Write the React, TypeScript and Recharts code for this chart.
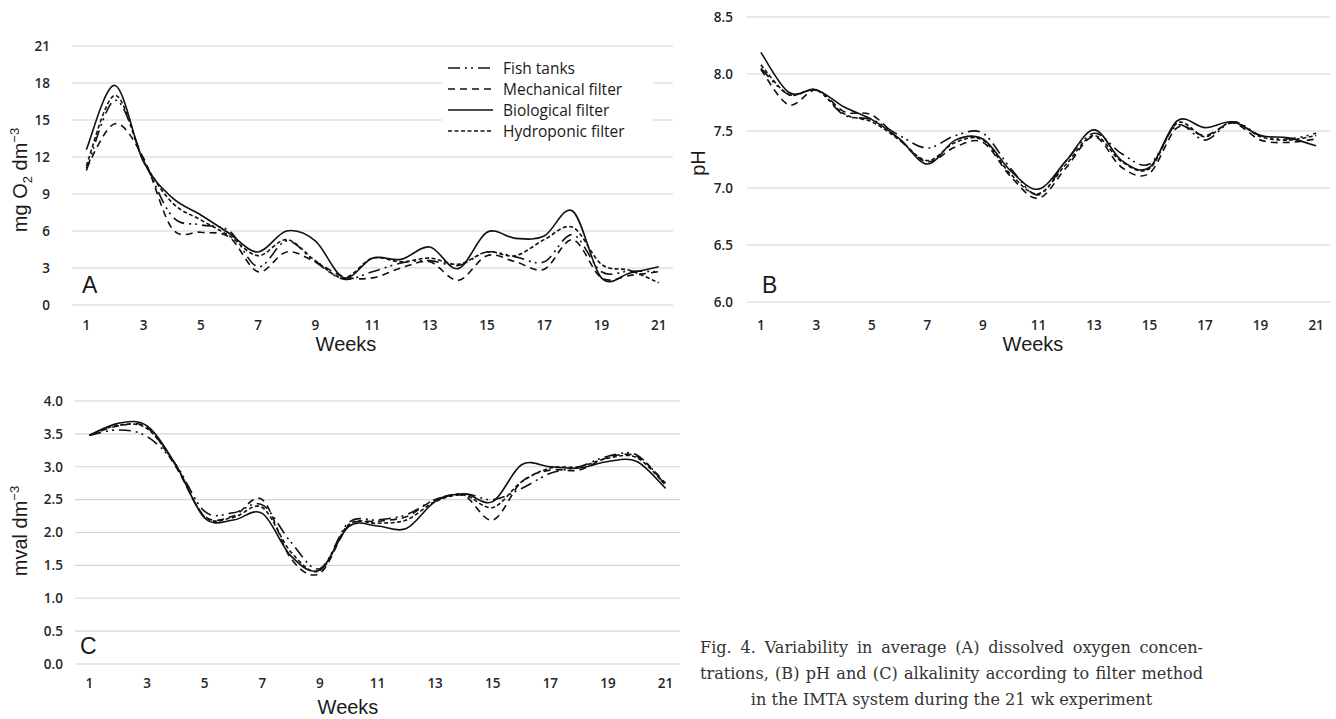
import React from 'react';
import { LineChart, Line, XAxis, YAxis, CartesianGrid, Legend, Label } from 'recharts';

const weeks = [1, 2, 3, 4, 5, 6, 7, 8, 9, 10, 11, 12, 13, 14, 15, 16, 17, 18, 19, 20, 21];
const weekTicks = [1, 3, 5, 7, 9, 11, 13, 15, 17, 19, 21];

// (A) dissolved oxygen, mg O2 dm-3
const oxygenFish = [10.9, 16.6, 11.8, 7.2, 6.5, 6.0, 3.1, 5.2, 3.5, 2.1, 2.7, 3.4, 3.6, 3.2, 4.3, 3.9, 3.5, 5.7, 2.7, 2.75, 2.7];
const oxygenMech = [11.1, 14.7, 11.9, 6.2, 5.9, 5.5, 2.7, 4.3, 3.5, 2.3, 2.2, 3.0, 3.5, 2.0, 4.0, 3.5, 2.9, 5.3, 2.2, 2.4, 2.7];
const oxygenBio = [12.6, 17.8, 11.6, 8.7, 7.3, 5.8, 4.3, 6.0, 5.2, 2.2, 3.8, 3.7, 4.7, 2.95, 5.9, 5.4, 5.6, 7.6, 2.2, 2.6, 3.1];
const oxygenHydro = [11.3, 17.0, 11.7, 8.3, 6.9, 5.6, 4.0, 5.3, 3.6, 2.2, 3.8, 3.5, 3.8, 3.3, 4.3, 4.0, 5.3, 6.3, 3.3, 2.8, 1.8];
const oxygenTicks = [0, 3, 6, 9, 12, 15, 18, 21];

// (B) pH
const phFish = [8.05, 7.82, 7.86, 7.64, 7.6, 7.46, 7.35, 7.46, 7.48, 7.17, 6.94, 7.24, 7.48, 7.3, 7.21, 7.55, 7.42, 7.58, 7.46, 7.43, 7.48];
const phMech = [8.04, 7.73, 7.86, 7.67, 7.64, 7.42, 7.23, 7.36, 7.4, 7.1, 6.91, 7.18, 7.45, 7.18, 7.13, 7.53, 7.46, 7.57, 7.42, 7.4, 7.43];
const phBio = [8.19, 7.84, 7.86, 7.71, 7.6, 7.43, 7.21, 7.42, 7.43, 7.15, 6.99, 7.24, 7.51, 7.24, 7.18, 7.59, 7.53, 7.58, 7.46, 7.44, 7.37];
const phHydro = [8.08, 7.82, 7.86, 7.65, 7.58, 7.42, 7.24, 7.4, 7.42, 7.12, 6.95, 7.21, 7.46, 7.23, 7.17, 7.57, 7.45, 7.58, 7.45, 7.42, 7.46];
const phTicks = [6.0, 6.5, 7.0, 7.5, 8.0, 8.5];

// (C) alkalinity, mval dm-3
const alkFish = [3.48, 3.56, 3.46, 3.03, 2.32, 2.3, 2.42, 1.85, 1.45, 2.15, 2.19, 2.27, 2.5, 2.59, 2.5, 2.67, 2.9, 3.0, 3.16, 3.18, 2.72];
const alkMech = [3.48, 3.62, 3.6, 3.0, 2.25, 2.25, 2.5, 1.6, 1.38, 2.1, 2.17, 2.24, 2.5, 2.56, 2.19, 2.77, 2.95, 2.95, 3.14, 3.16, 2.75];
const alkBio = [3.48, 3.66, 3.62, 3.03, 2.22, 2.19, 2.29, 1.64, 1.43, 2.09, 2.1, 2.06, 2.47, 2.59, 2.47, 3.03, 3.0, 2.98, 3.08, 3.08, 2.67];
const alkHydro = [3.48, 3.63, 3.58, 3.02, 2.24, 2.23, 2.38, 1.7, 1.42, 2.12, 2.14, 2.19, 2.47, 2.57, 2.38, 2.77, 2.98, 3.0, 3.13, 3.14, 2.72];
const alkTicks = [0, 0.5, 1.0, 1.5, 2.0, 2.5, 3.0, 3.5, 4.0];

const series = [
    { key: 'fish', name: 'Fish tanks', dash: '12 5 2 4 2 5' },
    { key: 'mech', name: 'Mechanical filter', dash: '7 5' },
    { key: 'bio', name: 'Biological filter', dash: undefined },
    { key: 'hydro', name: 'Hydroponic filter', dash: '4 2.5' },
];

const toRows = (fish: number[], mech: number[], bio: number[], hydro: number[]) =>
    weeks.map((week, i) => ({ week, fish: fish[i], mech: mech[i], bio: bio[i], hydro: hydro[i] }));

const oxygenData = toRows(oxygenFish, oxygenMech, oxygenBio, oxygenHydro);
const phData = toRows(phFish, phMech, phBio, phHydro);
const alkData = toRows(alkFish, alkMech, alkBio, alkHydro);

// excel style smoothed line (catmull-rom through the points)
const excelSmooth = (context: any) => {
    let pts: number[][] = [];
    return {
        areaStart() {},
        areaEnd() {},
        lineStart() { pts = []; },
        point(x: number, y: number) { pts.push([+x, +y]); },
        lineEnd() {
            if (!pts.length) return;
            context.moveTo(pts[0][0], pts[0][1]);
            for (let i = 0; i < pts.length - 1; i++) {
                const p0 = pts[i - 1] || pts[i];
                const p1 = pts[i];
                const p2 = pts[i + 1];
                const p3 = pts[i + 2] || p2;
                context.bezierCurveTo(
                    p1[0] + (p2[0] - p0[0]) / 6, p1[1] + (p2[1] - p0[1]) / 6,
                    p2[0] - (p3[0] - p1[0]) / 6, p2[1] - (p3[1] - p1[1]) / 6,
                    p2[0], p2[1]
                );
            }
        },
    };
};

const tickStyle = { fontFamily: '"Open Sans", sans-serif', fontWeight: 600, fontSize: 13.5, fill: '#262626' };
const titleFont = { fontFamily: '"Liberation Sans", Arial, sans-serif', fontSize: 20, fill: '#1a1a1a' };

const LegendBox = () => (
    <div style={{ background: '#fff', padding: '2px 0', fontFamily: '"Open Sans", sans-serif', fontSize: 15.5, color: '#1a1a1a' }}>
        {series.map(s => (
            <div key={s.key} style={{ display: 'flex', alignItems: 'center', height: 21 }}>
                <svg width={58} height={10} style={{ flex: 'none' }}>
                    <line x1={6} y1={5} x2={51} y2={5} stroke="#111" strokeWidth={1.6} strokeDasharray={s.dash} />
                </svg>
                <span style={{ marginLeft: 3 }}>{s.name}</span>
            </div>
        ))}
    </div>
);

type PanelProps = {
    data: any[],
    width: number,
    height: number,
    margin: { top: number, right: number, left: number, bottom: number },
    xHeight: number,
    yDomain: number[],
    yTicks: number[],
    yWidth: number,
    yTickMargin: number,
    xTickMargin: number,
    decimals: number,
    yTitle: React.ReactNode,
    yTitleX: number,
    yTitleY: number,
    weeksX: number,
    weeksY: number,
    letter: string,
    letterX: number,
    letterY: number,
    legend?: boolean,
}

const Panel: React.FC<PanelProps> = (p) => (
    <LineChart width={p.width} height={p.height} data={p.data} margin={p.margin}>
        <CartesianGrid vertical={false} stroke="#d4d4d4" strokeWidth={1.2} />
        <XAxis dataKey="week" type="number" domain={[0.5, 21.5]} ticks={weekTicks}
            axisLine={false} tickLine={false} tick={tickStyle} tickMargin={p.xTickMargin} height={p.xHeight}
            interval={0} />
        <YAxis type="number" domain={p.yDomain} ticks={p.yTicks} width={p.yWidth}
            axisLine={false} tickLine={false} tick={tickStyle} tickMargin={p.yTickMargin} interval={0}
            tickFormatter={(v: number) => v.toFixed(p.decimals)}>
            <Label content={() => (
                <g>
                    <text transform={`translate(${p.yTitleX},${p.yTitleY}) rotate(-90)`} textAnchor="middle" {...titleFont}>{p.yTitle}</text>
                    <text x={p.weeksX} y={p.weeksY} textAnchor="middle" {...titleFont}>Weeks</text>
                    <text x={p.letterX} y={p.letterY} {...titleFont} fontSize={23}>{p.letter}</text>
                </g>
            )} />
        </YAxis>
        {p.legend && (
            <Legend layout="vertical" align="center" verticalAlign="middle"
                wrapperStyle={{ left: 442, top: 55, width: 211 }} content={() => <LegendBox />} />
        )}
        {series.map(s => (
            <Line key={s.key} dataKey={s.key} name={s.name} type={excelSmooth as any} stroke="#111"
                strokeWidth={1.6} strokeDasharray={s.dash} dot={false} activeDot={false}
                isAnimationActive={false} />
        ))}
    </LineChart>
);

export default function App() {
    return (
        <div style={{ position: 'absolute', left: 0, top: 0, width: 1336, height: 719, background: '#fff', overflow: 'hidden' }}>
            <div style={{ position: 'absolute', left: 0, top: 0 }}>
                <Panel data={oxygenData} width={690} height={360}
                    margin={{ top: 46, right: 17, left: 0, bottom: 0 }} xHeight={55}
                    yDomain={[0, 21]} yTicks={oxygenTicks} yWidth={72} yTickMargin={16} xTickMargin={9} decimals={0}
                    yTitle={<>
                        <tspan>mg O</tspan>
                        <tspan dy={5} fontSize={13}>2</tspan>
                        <tspan dy={-5}> dm</tspan>
                        <tspan dy={-8} fontSize={13}>−3</tspan>
                    </>}
                    yTitleX={27} yTitleY={180} weeksX={346} weeksY={351}
                    letter="A" letterX={82} letterY={293} legend />
            </div>
            <div style={{ position: 'absolute', left: 680, top: 0 }}>
                <Panel data={phData} width={656} height={360}
                    margin={{ top: 17, right: 6, left: 0, bottom: 0 }} xHeight={58}
                    yDomain={[6, 8.5]} yTicks={phTicks} yWidth={67} yTickMargin={8} xTickMargin={12} decimals={1}
                    yTitle={<tspan>pH</tspan>}
                    yTitleX={25} yTitleY={163} weeksX={353} weeksY={351}
                    letter="B" letterX={82} letterY={293} />
            </div>
            <div style={{ position: 'absolute', left: 0, top: 360 }}>
                <Panel data={alkData} width={700} height={359}
                    margin={{ top: 41, right: 20, left: 0, bottom: 0 }} xHeight={55}
                    yDomain={[0, 4]} yTicks={alkTicks} yWidth={75} yTickMargin={6} xTickMargin={8} decimals={1}
                    yTitle={<>
                        <tspan>mval dm</tspan>
                        <tspan dy={-8} fontSize={13}>−3</tspan>
                    </>}
                    yTitleX={27} yTitleY={171} weeksX={348} weeksY={354}
                    letter="C" letterX={80} letterY={294} />
            </div>
            <div style={{ position: 'absolute', left: 700, top: 635, width: 503, fontFamily: '"DejaVu Serif", serif', fontSize: 16.1, lineHeight: '26px', color: '#333', whiteSpace: 'nowrap' }}>
                <div style={{ textAlign: 'justify', textAlignLast: 'justify' }}>Fig. 4. Variability in average (A) dissolved oxygen concen-</div>
                <div style={{ textAlign: 'justify', textAlignLast: 'justify' }}>trations, (B) pH and (C) alkalinity according to filter method</div>
                <div style={{ textAlign: 'center' }}>in the IMTA system during the 21 wk experiment</div>
            </div>
        </div>
    );
}
